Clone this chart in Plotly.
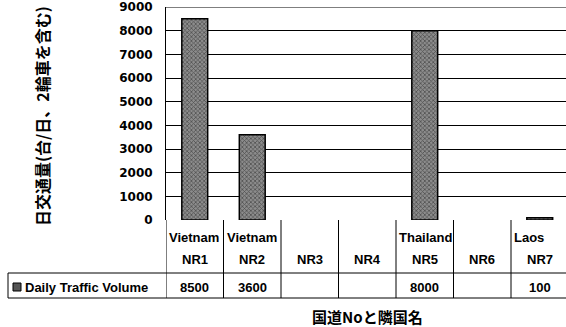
import plotly.graph_objects as go

# ---- data -------------------------------------------------------------
routes = ["NR1", "NR2", "NR3", "NR4", "NR5", "NR6", "NR7"]
countries = ["Vietnam", "Vietnam", "", "", "Thailand", "", "Laos"]
daily_traffic = [8500, 3600, None, None, 8000, None, 100]
series_name = "Daily Traffic Volume"
y_ticks = [0, 1000, 2000, 3000, 4000, 5000, 6000, 7000, 8000, 9000]
y_title = "日交通量(台/日、2輪車を含む)"
x_title = "国道Noと隣国名"

# ---- geometry ---------------------------------------------------------
W, H = 566, 327
ML, MR, MT, MB = 166, 0, 7, 107
PW, PH = W - ML - MR, H - MT - MB


def py(y_px):
    """pixel row -> paper y"""
    return (H - MB - y_px) / PH


def px(x_px):
    """pixel column -> paper x"""
    return (x_px - ML) / PW


x_idx = list(range(len(routes)))
n = len(routes)

TABLE_FONT = dict(family="Liberation Sans", size=13, color="black", weight="bold")
YTITLE_FONT = dict(family="Noto Sans CJK JP", size=16, color="black", weight="bold")
XTITLE_FONT = dict(family="Noto Sans CJK JP", size=15, color="black", weight="bold")

bar_marker = dict(
    color="#707070",
    line=dict(color="black", width=1.5),
    pattern=dict(shape="x", fgcolor="#141414", bgcolor="#8c8c8c", size=3, solidity=0.45),
)

fig = go.Figure(
    go.Bar(
        x=x_idx,
        y=daily_traffic,
        name=series_name,
        width=0.45,
        marker=bar_marker,
        showlegend=False,
    )
)

shapes = []
# table: column separators
for k in range(n + 1):
    shapes.append(dict(type="line", xref="x", yref="paper", x0=k - 0.5, x1=k - 0.5,
                       y0=0, y1=py(298), line=dict(color="black", width=1)))
# table: row lines (category row / data row), extending under the legend cell
for yy in (273, 298):
    shapes.append(dict(type="line", xref="paper", yref="paper", x0=px(8), x1=1,
                       y0=py(yy), y1=py(yy), line=dict(color="black", width=1)))
# legend cell left edge
shapes.append(dict(type="line", xref="paper", yref="paper", x0=px(8), x1=px(8),
                   y0=py(273), y1=py(298), line=dict(color="black", width=1)))
# legend key
shapes.append(dict(type="rect", xref="paper", yref="paper", x0=px(13), x1=px(21),
                   y0=py(291), y1=py(283), fillcolor="#555555",
                   line=dict(color="black", width=1)))
# top border of the plot area
shapes.append(dict(type="line", xref="x", yref="y", x0=-0.5, x1=n,
                   y0=y_ticks[-1], y1=y_ticks[-1], line=dict(color="black", width=1)))

annotations = []
for i, (c, r, v) in enumerate(zip(countries, routes, daily_traffic)):
    if c:
        annotations.append(dict(x=i - 0.5, y=py(237), xref="x", yref="paper", text=c,
                                showarrow=False, xanchor="left", yanchor="middle",
                                xshift=1, font=TABLE_FONT))
    annotations.append(dict(x=i, y=py(259), xref="x", yref="paper", text=r,
                            showarrow=False, xanchor="center", yanchor="middle",
                            font=TABLE_FONT))
    if v is not None:
        annotations.append(dict(x=i, y=py(287), xref="x", yref="paper", text=str(v),
                                showarrow=False, xanchor="center", yanchor="middle",
                                font=TABLE_FONT))

annotations.append(dict(x=px(23), y=py(287), xref="paper", yref="paper", text=series_name,
                        showarrow=False, xanchor="left", yanchor="middle", font=TABLE_FONT))
annotations.append(dict(x=px(42), y=py(116), xref="paper", yref="paper", text=y_title,
                        showarrow=False, textangle=-90, xanchor="center", yanchor="middle",
                        font=YTITLE_FONT))
annotations.append(dict(x=px(367), y=py(316), xref="paper", yref="paper", text=x_title,
                        showarrow=False, xanchor="center", yanchor="middle", font=XTITLE_FONT))

fig.update_layout(
    width=W, height=H,
    margin=dict(l=ML, r=MR, t=MT, b=MB, pad=0),
    paper_bgcolor="white", plot_bgcolor="white",
    font=dict(family="Liberation Sans", color="black"),
    shapes=shapes,
    annotations=annotations,
)
fig.update_xaxes(
    range=[-0.5, -0.5 + PW / 57.5],
    showticklabels=False, showgrid=False, zeroline=False, showline=False, ticks="",
)
fig.update_yaxes(
    range=[0, 9000],
    tickvals=y_ticks,
    ticktext=[str(t) for t in y_ticks],
    tickfont=dict(family="DejaVu Sans", size=12, color="black", weight="bold"),
    showgrid=True, gridcolor="black", gridwidth=1,
    zeroline=False,
    showline=True, linecolor="black", linewidth=1,
    ticks="inside", ticklen=3, tickcolor="black",
    ticklabelstandoff=10,
)

fig.write_html("out.html")
